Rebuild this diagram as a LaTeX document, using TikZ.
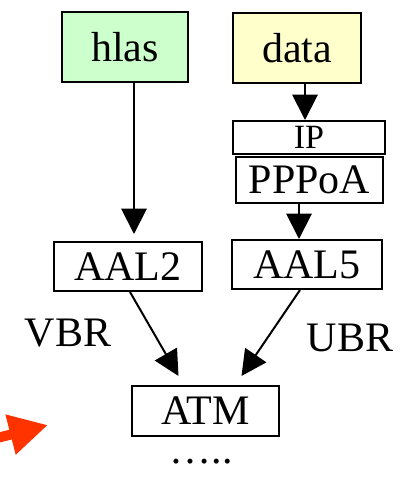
\documentclass[tikz,border=0pt]{standalone}
\usepackage{fontspec}
\setmainfont{Liberation Serif}
\usetikzlibrary{arrows.meta,calc}

\definecolor{voicegreen}{RGB}{204,255,204}
\definecolor{datayellow}{RGB}{255,255,204}
\definecolor{pointerred}{RGB}{255,51,0}

\tikzset{every picture/.style={line width=1.5pt}}
\tikzset{
	layerbox/.style={draw, rectangle, inner sep=0pt, font=\fontsize{31.5}{36}\selectfont},
	plainlabel/.style={inner sep=0pt, font=\fontsize{31.5}{36}\selectfont},
	dataflow/.style={-{Triangle[length=19pt,width=19pt]}},
}

\begin{document}
\begin{tikzpicture}[x=0.75pt,y=0.75pt,yscale=-1,xscale=1]
		\useasboundingbox (0,0) rectangle (414,484);
		
		%Shape: Rectangle (hlas)
		\node[layerbox, fill=voicegreen, minimum width=94.5pt, minimum height=52.5pt] (hlas) at (125,47) {hlas};
		%Shape: Rectangle (data)
		\node[layerbox, fill=datayellow, minimum width=96pt, minimum height=52.5pt] (data) at (297,48) {data};
		%Shape: Rectangle (IP over PPPoA)
		\node[layerbox, minimum width=114pt, minimum height=24.75pt, font=\fontsize{25.5}{30}\selectfont] (ip) at (309,137.5) {IP};
		\node[layerbox, minimum width=110.25pt, minimum height=34.5pt] (pppoa) at (309.5,180) {PPPoA};
		%Shape: Rectangle (AAL)
		\node[layerbox, minimum width=111pt, minimum height=36.75pt] (aal2) at (128,266.5) {AAL2};
		\node[layerbox, minimum width=112.5pt, minimum height=36.75pt] (aal5) at (307,264.5) {AAL5};
		%Shape: Rectangle (ATM)
		\node[layerbox, minimum width=110.25pt, minimum height=37.5pt] (atm) at (205.5,411) {ATM};
		
		%Straight Lines
		\draw[dataflow] ($(hlas.south)+(9,0)$) -- ($(aal2.north)+(6,-7)$);
		\draw[dataflow] ($(data.south)+(8,0)$) -- ($(ip.north)+(-4,0)$);
		\draw[dataflow] ($(pppoa.south)+(-10.5,0)$) -- ($(aal5.north)+(-8,0)$);
		\draw[dataflow] ($(aal2.south)+(2,0)$) -- ($(atm.north)+(-27,-9)$);
		\draw[dataflow] ($(aal5.south)+(-7,0)$) -- ($(atm.north)+(36,-9)$);
		
		% Text Node
		\node[plainlabel] (vbr) at (68,333) {VBR};
		% Text Node
		\node[plainlabel] (ubr) at (350,338) {UBR};
		% Text Node
		\node[plainlabel] (more) at (201,462) {…..};
		
		%Red pointer, cut at the left edge
		\begin{scope}
			\clip (0,0) rectangle (414,484);
			\coordinate (pointertail) at (-40,447.5);
			\coordinate (pointertip) at (48,425);
			\draw[pointerred, line width=7.5pt, -{Triangle[length=29pt,width=29pt]}] (pointertail) -- (pointertip);
		\end{scope}
		
\end{tikzpicture}
\end{document}
